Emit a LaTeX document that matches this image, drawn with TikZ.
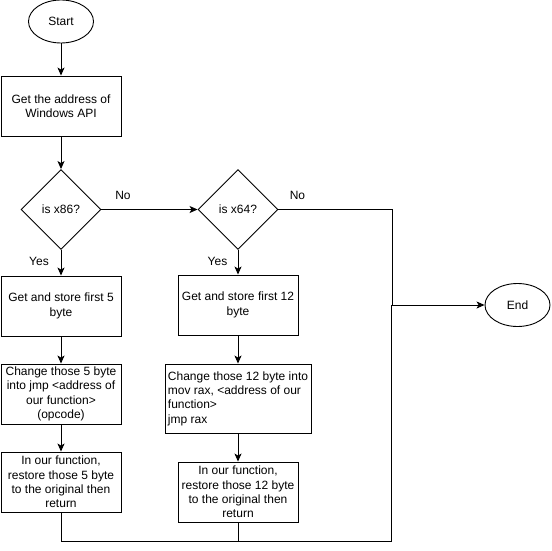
\documentclass[tikz,border=0pt]{standalone}
\usepackage{fontspec}
\setmainfont{Liberation Sans}
\usetikzlibrary{shapes.geometric,arrows.meta}

\begin{document}
\begin{tikzpicture}[x=1pt,y=-1pt,line width=0.9pt,
	>={Stealth[length=8pt,width=7pt,inset=2pt]},
	every node/.style={font=\fontsize{12}{14.4}\selectfont,inner sep=0pt},
	termnode/.style={draw,ellipse,minimum width=65pt,minimum height=43pt},
	blknode/.style={draw,rectangle,align=center,minimum width=120pt,minimum height=60pt},
	decnode/.style={draw,diamond,minimum width=80pt,minimum height=80pt}]
	\def\colL{61}
	\def\colR{238}

	\useasboundingbox (0,0) rectangle (551,551);

	\node[termnode] (start) at (\colL,21.5) {Start};
	\node[blknode] (addr) at (\colL,106) {Get the address of\\Windows API};
	\node[decnode] (isx86) at (\colL,209.5) {is x86?};
	\node[decnode] (isx64) at (\colR,209.5) {is x64?};

	\node[blknode] (store5) at (\colL,306) {Get and store first 5\\byte};
	\node[blknode] (change5) at (\colL,394) {Change those 5 byte\\into jmp <address of\\our function>\\(opcode)};
	\node[blknode] (restore5) at (\colL,482) {In our function,\\restore those 5 byte\\to the original then\\return};

	\node[blknode] (store12) at (\colR,305) {Get and store first 12\\byte};
	\node[blknode,align=left,minimum width=146pt,minimum height=69pt] (change12) at (\colR,398.5) {Change those 12 byte into\\mov rax, <address of our\\function>\\jmp rax};
	\node[blknode] (restore12) at (\colR,492) {In our function,\\restore those 12 byte\\to the original then\\return};

	\node[termnode] (end) at (517.5,305) {End};

	\node (no86) at (123,195) {No};
	\node (yes86) at (39,261) {Yes};
	\node (no64) at (297.5,195) {No};
	\node (yes64) at (217.5,261) {Yes};

	\coordinate (busA) at (392.5,305);
	\coordinate (busB) at (391.5,541);

	\draw [->] (start) -- (addr);
	\draw [->] (addr) -- (isx86);
	\draw [->] (isx86) -- (store5);
	\draw [->] (store5) -- (change5);
	\draw [->] (change5) -- (restore5);
	\draw [->] (isx86) -- (isx64);
	\draw [->] (isx64) -- (store12);
	\draw [->] (store12) -- (change12);
	\draw [->] (change12) -- (restore12);

	\draw [->] (isx64.east) -| (busA) -- (end.west);
	\draw (restore5.south) |- (busB) -- (busB |- end.west);
	\draw (restore12.south) -- (restore12.south |- busB);
\end{tikzpicture}
\end{document}
